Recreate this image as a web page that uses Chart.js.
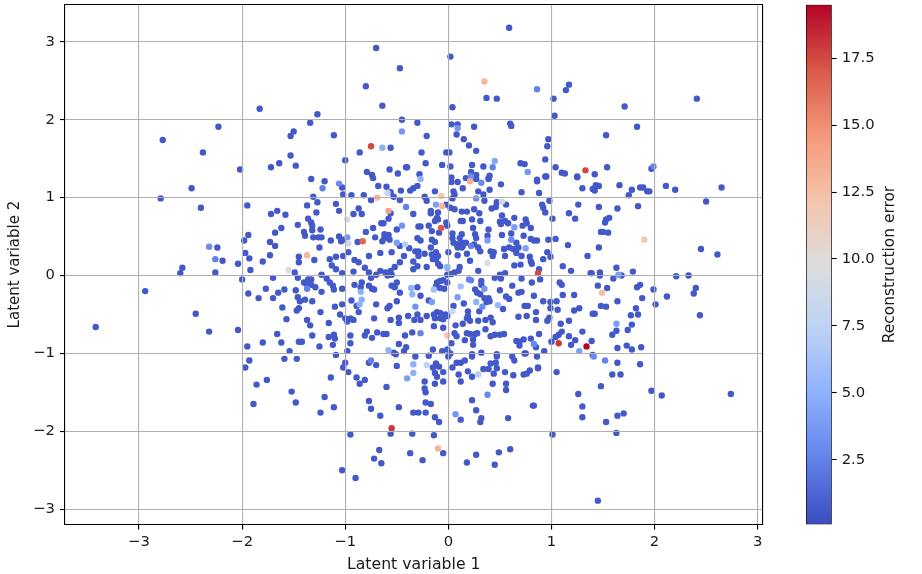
<!DOCTYPE html>
<html>
<head>
<meta charset="utf-8">
<title>Latent space</title>
<script src="https://cdn.jsdelivr.net/npm/chart.js@4"></script>
<style>
  html, body { margin: 0; padding: 0; background: #fff; }
  #plot { position: absolute; left: 0; top: 0; }
  #bar { position: absolute; left: 780px; top: 0; }
</style>
</head>
<body>
<canvas id="plot" width="780" height="574"></canvas>
<canvas id="bar" width="142" height="574"></canvas>
<script>
// values, grouped by area of the plot
const upperX = [-1.83,-2.23,-2.77,-2.38,-2.02,-1.72,-1.64,-1.53,-1.48,-1.50,-1.53,
  0.59,-0.70,0.02,-0.47,-0.80,0.37,0.47,-0.64,0.04,-1.27,-1.34,-0.45,-0.30,0.03,0.09,0.60,0.61,0.25,-1.11,
  0.08,-0.21,0.15,0.20,-0.56,0.27,-0.86,-0.26,-0.02,0.01,-1.00,-0.22,-0.06,0.02,0.23,0.34,0.70,0.74,-0.57,
  -0.49,-0.41,-0.40,-0.79,-0.74,-0.73,-0.28,-1.33,-1.20,0.03,0.22,0.17,0.27,0.40,0.39,0.86,
  2.41,1.17,1.14,1.02,1.71,1.03,1.83,1.53,0.97,0.96,0.94,1.04,1.10,1.13,0.94,1.25,1.42,1.54,1.97];
const upperY = [2.14,1.91,1.74,1.58,1.36,1.39,1.44,1.54,1.41,1.85,1.79,
  3.18,2.92,2.81,2.66,2.43,2.28,2.27,2.18,2.16,2.07,1.96,2.00,1.96,1.94,1.94,1.95,1.92,1.91,1.80,
  1.81,1.79,1.75,1.67,1.64,1.60,1.58,1.58,1.58,1.58,1.48,1.44,1.42,1.40,1.42,1.40,1.44,1.43,1.36,
  1.31,1.39,1.39,1.33,1.29,1.25,1.30,1.24,1.21,1.26,1.33,1.25,1.29,1.28,1.25,1.23,
  2.27,2.45,2.38,2.27,2.17,2.05,1.91,1.80,1.75,1.66,1.49,1.39,1.32,1.31,1.27,1.27,1.30,1.39,1.37];

const leftX = [-2.49,-2.79,-2.40,-1.95,-1.66,-1.72,-1.58,-1.46,-1.62,-1.68,-1.94,-1.98,-1.73,-1.68,-2.24,-1.97,
  -1.93,-1.73,-2.19,-2.04,-1.80,-1.45,-1.45,-2.58,-2.60,-2.26,-1.92,-1.49,-1.70,-2.00,-1.46,-2.94,-1.77,-1.94,
  -1.84,-1.70,-1.65,-1.59,-1.48,-1.46,-1.61,-1.47,-1.45,-2.45,-1.57,-2.04,-2.32,-3.42,-1.66,-1.62,-1.80,-1.45,
  -1.95,-1.54,-1.93,-1.97,-1.59,-1.47,-1.76,-1.86,-1.52,-1.48,-1.89];
const leftY = [1.12,0.99,0.87,0.90,0.83,0.79,0.78,0.65,0.61,0.55,0.52,0.45,0.43,0.38,0.36,0.29,
  0.22,0.26,0.19,0.15,0.18,0.24,0.17,0.10,0.03,0.04,0.07,0.04,-0.03,-0.05,-0.03,-0.20,-0.17,-0.23,
  -0.29,-0.29,-0.22,-0.18,-0.19,-0.28,-0.41,-0.45,-0.42,-0.49,-0.56,-0.70,-0.72,-0.66,-0.75,-0.86,-0.86,-0.85,
  -0.91,-0.97,-1.09,-1.18,-1.07,-1.07,-1.34,-1.40,-1.49,-1.63,-1.65];

const centerUpX = [-1.03,-1.02,-1.31,-0.94,-0.82,-0.68,-0.60,-0.56,-0.46,-0.30,-0.34,-0.37,-0.13,-0.23,-0.21,
  -0.75,-0.53,-0.47,-1.37,-1.27,-1.09,-1.06,-0.87,-0.92,-0.84,-0.56,-0.34,-0.17,-0.10,-0.11,-0.13,-0.10,-0.17,
  -1.28,-1.36,-1.32,-1.33,-1.24,-1.32,-1.40,-1.39,-0.58,-0.65,-0.63,-0.73,-0.80,-0.50,-0.62,-0.58,-0.57,-0.62,
  -0.64,-0.71,-0.29,-0.27,-0.19,-0.16,-0.09,-0.01,-0.30,-0.27,-0.16,-0.13,-1.31,-1.26,-1.23,-1.14,-1.06,-1.02,
  -1.04,-0.88,-0.47,-1.25,-0.38,-0.32,-0.29,-0.29,-0.23,-0.17,-0.55,-0.66,-0.77,-0.97,-1.02,-1.09,-1.15,-1.30,
  -0.16,-0.12,-0.10,-0.15,-0.12,-0.10,-0.08,-0.43,-0.47,-0.34,-0.30,-0.34,-0.21,-0.91,-0.87,-1.13,-1.09,-1.03,
  -0.81,-0.77,-0.92,-0.52,-0.56,-0.61,-0.66,-0.70,-0.59,-0.55,-1.23,-0.01];
const centerUpY = [1.13,1.04,1.01,1.03,1.03,1.15,1.14,1.07,1.09,1.15,1.12,1.09,1.08,1.01,0.96,
  0.97,1.01,0.97,0.90,0.94,0.92,0.83,0.86,0.79,0.79,0.80,0.79,0.83,0.81,0.74,0.70,0.72,0.80,
  0.81,0.73,0.64,0.68,0.59,0.58,0.56,0.51,0.73,0.67,0.67,0.61,0.56,0.59,0.53,0.52,0.46,0.48,
  0.44,0.49,0.63,0.63,0.64,0.57,0.55,0.64,0.48,0.45,0.46,0.43,0.49,0.49,0.49,0.45,0.50,0.46,
  0.44,0.43,0.38,0.36,0.35,0.31,0.31,0.25,0.28,0.36,0.30,0.29,0.25,0.30,0.25,0.24,0.21,0.20,
  0.27,0.30,0.25,0.21,0.21,0.15,0.12,0.25,0.17,0.18,0.12,0.08,0.11,0.20,0.17,0.13,0.08,0.03,
  0.10,0.04,0.05,0.11,0.06,0.04,0.06,0.01,0.00,0.01,0.01,0.01];

const centerLowX = [-0.75,-1.40,-1.36,-1.33,-1.37,-1.33,-1.29,-1.23,-1.18,-1.15,-1.12,-1.11,-1.03,-0.91,-0.84,-0.85,
  -0.77,-0.74,-0.72,-0.55,-0.50,-0.52,-0.47,-0.30,-0.27,-0.08,-0.11,-0.05,-0.12,-0.08,-0.04,-1.39,-1.32,-1.44,
  -0.94,-0.89,-1.03,-1.10,-0.70,-0.59,-0.57,-0.50,-0.19,-1.24,-1.05,-0.87,-1.00,-0.95,-0.98,-0.92,-0.72,-0.56,
  -0.48,-0.48,-0.39,-0.33,-0.30,-0.27,-0.21,-0.14,-0.11,-0.08,-0.03,-0.13,-0.08,-0.05,-0.01,-1.37,-1.34,-1.16,
  -1.32,-1.16,-1.11,-1.10,-1.12,-0.95,-0.95,-0.79,-0.81,-0.74,-0.69,-0.63,-0.60,-0.42,-0.35,-0.14,-0.05,
  -0.48,-0.41,-0.43,-0.51,-0.15,-0.06,-0.01,-1.25,-1.42,-0.98,-0.53];
const centerLowY = [-0.03,-0.09,-0.05,-0.05,-0.12,-0.12,-0.15,-0.21,-0.04,-0.09,-0.13,-0.18,-0.17,-0.12,-0.09,-0.15,
  -0.13,-0.17,-0.18,-0.13,-0.09,-0.15,-0.22,-0.15,-0.26,-0.07,-0.09,-0.06,-0.14,-0.16,-0.17,-0.31,-0.33,-0.33,
  -0.32,-0.39,-0.37,-0.40,-0.37,-0.42,-0.39,-0.33,-0.32,-0.47,-0.50,-0.47,-0.55,-0.55,-0.59,-0.57,-0.55,-0.57,
  -0.54,-0.61,-0.52,-0.57,-0.50,-0.57,-0.52,-0.50,-0.47,-0.48,-0.50,-0.55,-0.55,-0.56,-0.52,-0.57,-0.64,-0.61,
  -0.77,-0.79,-0.76,-0.81,-0.89,-0.77,-0.87,-0.72,-0.77,-0.80,-0.73,-0.75,-0.75,-0.77,-0.73,-0.65,-0.67,
  -0.88,-0.92,-0.97,-1.01,-0.95,-0.97,-0.95,-0.91,-0.85,-0.97,-0.99];

const rightUpX = [0.09,0.03,0.27,0.39,0.51,0.71,0.88,0.86,0.95,1.25,1.30,1.40,0.05,0.06,0.14,0.29,0.34,0.40,0.04,0.35,
  0.47,0.42,0.46,0.56,0.98,0.91,0.92,0.94,1.26,-0.02,0.02,0.06,0.13,0.18,0.25,0.30,0.52,0.64,1.01,1.17,1.23,
  0.12,0.14,0.23,0.31,0.50,0.55,0.58,0.51,0.75,0.76,0.72,0.80,-0.02,0.24,0.39,0.04,0.13,0.11,0.04,0.26,0.27,
  0.38,0.52,0.61,0.73,0.80,0.83,0.86,0.97,1.04,1.16,0.05,0.08,0.10,0.13,0.09,0.13,0.14,0.17,0.25,0.29,0.31,
  0.41,0.44,0.43,0.54,0.59,0.66,0.68,0.63,0.66,0.71,0.00,0.09,0.18,0.21,0.55,0.79,0.80,0.81,0.96,0.99,0.92,
  1.35,0.64,0.70,1.11,0.11,0.10,0.06,0.29,0.50,0.55,0.88,1.19,1.38,0.03];
const rightUpY = [1.20,1.20,1.24,1.24,1.17,1.07,1.06,1.21,1.27,1.26,1.12,1.11,1.08,1.04,1.12,1.08,1.04,1.10,0.99,0.96,
  0.94,0.86,0.88,0.91,0.96,0.91,0.87,0.81,0.91,0.91,0.87,0.85,0.82,0.82,0.85,0.80,0.77,0.74,0.73,0.80,0.73,
  0.70,0.70,0.72,0.70,0.69,0.70,0.67,0.66,0.72,0.67,0.64,0.61,0.68,0.61,0.59,0.54,0.53,0.48,0.48,0.53,0.48,
  0.51,0.52,0.54,0.51,0.47,0.45,0.45,0.46,0.47,0.39,0.42,0.40,0.40,0.42,0.36,0.36,0.38,0.42,0.40,0.36,0.31,
  0.31,0.30,0.25,0.34,0.36,0.42,0.36,0.34,0.29,0.25,0.30,0.26,0.28,0.19,0.25,0.24,0.18,0.15,0.30,0.24,0.21,
  0.25,0.13,0.14,0.12,0.11,0.06,0.04,0.06,0.01,0.03,0.08,0.06,0.03,0.02];

const rightLowX = [0.45,0.51,0.71,0.89,-0.01,1.08,1.10,0.81,0.62,0.32,0.32,0.50,0.26,0.28,0.31,0.35,0.39,0.37,0.40,
  0.68,0.71,0.56,0.59,0.83,1.11,1.22,0.92,0.15,0.05,0.53,0.74,0.77,0.99,1.05,0.99,1.06,1.22,1.27,1.40,0.30,
  0.19,0.19,0.18,0.21,0.85,0.85,0.68,0.76,0.98,0.96,1.17,0.29,0.36,0.41,0.43,0.07,0.14,0.36,1.09,1.10,1.07,
  1.04,1.30,1.17,0.06,0.08,0.18,0.21,0.26,0.28,0.41,0.45,0.50,0.54,0.24,0.24,0.16,0.03,0.88,0.66,0.69,0.73,
  0.69,0.80,1.00,0.85,0.93,1.23,1.19,0.02,0.23,0.47,0.74];
const rightLowY = [-0.03,-0.04,-0.04,-0.05,-0.09,-0.09,-0.12,-0.09,-0.13,-0.07,-0.12,-0.19,-0.18,-0.22,-0.24,-0.29,-0.29,-0.34,-0.33,
  -0.22,-0.21,-0.27,-0.30,-0.26,-0.25,-0.25,-0.33,-0.36,-0.39,-0.43,-0.39,-0.39,-0.34,-0.33,-0.42,-0.44,-0.45,-0.42,-0.49,-0.46,
  -0.46,-0.52,-0.55,-0.58,-0.47,-0.57,-0.53,-0.52,-0.54,-0.58,-0.58,-0.58,-0.57,-0.54,-0.60,-0.64,-0.62,-0.69,-0.62,-0.72,-0.76,
  -0.79,-0.72,-0.78,-0.74,-0.78,-0.74,-0.75,-0.75,-0.74,-0.78,-0.76,-0.76,-0.75,-0.82,-0.89,-0.83,-0.87,-0.75,-0.84,-0.85,-0.82,
  -0.90,-0.81,-0.85,-0.92,-0.97,-0.83,-0.89,-1.00,-1.01,-1.01,-1.00];

const farRightX = [1.66,1.43,1.46,1.42,1.78,1.86,1.89,1.93,1.95,2.11,2.20,2.65,1.75,2.50,1.46,1.64,1.84,1.56,1.53,1.52,
  1.48,1.50,1.55,1.46,2.45,2.61,1.63,1.79,1.39,1.47,1.47,1.68,1.60,2.21,2.33,1.45,1.54,1.86,1.83,1.99,2.40,2.38,
  2.12,1.88,1.64,2.01,1.48,1.53,1.82,1.42,1.77,1.84,2.44,1.78,1.74,1.63,1.59,1.39,1.64,1.73,1.78,1.87];
const farRightY = [1.16,1.16,1.15,1.09,1.10,1.13,1.13,1.08,1.08,1.15,1.10,1.13,1.03,0.95,0.88,0.86,0.89,0.74,0.72,0.68,
  0.56,0.56,0.55,0.36,0.34,0.27,0.10,0.05,0.03,0.04,0.00,0.00,-0.04,-0.01,0.00,-0.13,-0.16,-0.12,-0.15,-0.18,-0.16,-0.23,
  -0.27,-0.29,-0.33,-0.37,-0.39,-0.40,-0.42,-0.49,-0.51,-0.50,-0.51,-0.63,-0.70,-0.71,-0.76,-0.84,-0.93,-0.90,-0.95,-0.92];

const lowerX = [-1.09,-1.00,-1.02,-0.97,-0.77,-0.70,-1.14,-0.89,-0.81,-0.86,-0.50,-0.60,-1.20,-1.11,-1.24,-0.77,-0.75,-0.66,
  -0.48,-0.34,-0.29,-0.22,-0.22,-0.17,-0.13,-0.09,-0.23,-0.22,-0.23,-0.13,-0.05,-0.32,-0.19,-0.15,-0.12,-0.09,-0.13,-0.11,-0.05,
  -0.95,-0.56,-0.35,-0.14,-0.67,-0.72,-0.65,-0.37,-0.25,-0.05,-1.03,-0.90,0.00,0.04,0.08,0.12,0.16,0.10,0.19,0.23,0.12,
  0.34,0.39,0.41,0.46,0.47,0.44,0.55,0.63,0.73,0.76,0.79,0.87,0.62,0.64,0.75,0.86,0.23,0.32,0.47,0.43,0.56,0.56,
  0.23,0.27,0.12,0.32,0.31,0.58,0.83,0.27,0.18,0.49,0.60,0.45,1.40,1.64,1.86,1.59,1.67,0.87,1.05,1.48,1.26,
  1.97,2.07,2.74,0.82,1.30,1.30,1.70,1.64,1.53,1.63,1.01,1.45];
const lowerY = [-1.02,-1.12,-1.18,-1.24,-1.12,-1.15,-1.31,-1.31,-1.34,-1.39,-1.16,-1.43,-1.56,-1.69,-1.76,-1.61,-1.71,-1.80,
  -1.69,-1.76,-1.76,-1.76,-1.63,-1.65,-1.82,-1.88,-1.45,-1.50,-1.36,-1.39,-1.36,-1.04,-1.03,-1.18,-1.13,-1.17,-1.25,-1.30,-1.24,
  -2.04,-2.03,-2.03,-2.05,-2.24,-2.35,-2.41,-2.28,-2.37,-2.28,-2.50,-2.60,-1.04,-1.18,-1.12,-1.12,-1.09,-1.27,-1.23,-1.30,-1.36,
  -1.20,-1.20,-1.13,-1.12,-1.19,-1.26,-1.24,-1.28,-1.27,-1.26,-1.22,-1.19,-1.04,-1.09,-1.00,-1.04,-1.04,-0.99,-1.04,-1.39,-1.39,-1.47,
  -1.60,-1.73,-1.85,-1.83,-1.88,-1.83,-1.67,-2.30,-2.40,-2.27,-2.23,-2.43,-1.02,-1.12,-1.14,-1.27,-1.27,-1.18,-1.24,-1.42,-1.52,
  -1.48,-1.54,-1.52,-1.67,-1.68,-1.82,-1.77,-1.80,-1.88,-2.02,-2.04,-2.89];

// most points sit at the dark end of the colour scale
const typicalError = 0.6;

// points with a visibly different colour
const paleX = [0.35,0.86,0.09,-0.45,-0.75,-0.64,0.45,0.43,0.77,-0.27,0.22,0.21,1.33,1.99,
  -2.32,-2.26,-1.55,-1.06,-1.22,-0.59,-0.69,-0.07,-0.12,-0.06,-0.58,-0.41,-0.98,-0.45,-0.07,-0.98,-0.97,-0.83,-0.50,-0.42,-1.37,-0.01,
  -1.37,-0.85,-0.36,-0.35,-0.14,-0.84,-0.86,-0.32,-0.16,-0.27,-0.01,-0.58,0.27,0.32,0.52,0.64,0.38,0.61,0.22,0.75,0.38,-0.01,0.87,
  0.20,0.22,0.12,0.35,0.09,0.27,0.33,0.48,0.04,1.07,0.83,1.34,1.27,1.90,1.65,1.49,1.63,1.41,
  -0.75,-0.34,-0.34,-0.40,-0.21,-0.55,-0.10,0.29,0.38,0.07,1.52];
const paleY = [2.49,2.39,1.89,1.85,1.66,1.64,1.47,1.39,1.33,1.24,1.27,1.21,1.35,1.40,
  0.37,0.21,0.07,1.18,1.12,1.06,1.00,1.02,0.91,0.89,0.83,0.88,0.72,0.64,0.61,0.49,0.41,0.44,0.42,0.40,0.26,0.10,
  -0.17,-0.21,-0.16,-0.24,-0.18,-0.31,-0.37,-0.40,-0.34,-0.74,-0.77,-0.96,0.99,1.19,0.95,0.62,0.45,0.46,0.38,0.35,0.16,0.11,0.03,
  -0.05,-0.06,-0.14,-0.17,-0.28,-0.34,-0.40,-0.38,-0.46,-0.87,-0.88,-0.91,-0.97,0.46,0.01,-0.22,-0.62,-1.04,
  -1.09,-1.14,-1.25,-1.32,-1.15,-1.96,-2.22,-1.27,-1.53,-1.78,-1.09];
const paleError = [13,2.6,3.6,3.6,17.5,5,4.5,2.5,3.5,5,3,13.5,17.5,2.5,
  3,2.5,10,3,2.5,8,13,12,4,13,14,2.5,9.5,3.5,17,3.5,9,16.5,4,7,13,4,
  2.5,5,5,5,6,5,5,3.5,4,2.5,12,5,3,3,9,4,4,3,2.5,4,9.5,5,17.5,
  2.5,2.5,6,3.5,4,5,3,5.5,8.5,18,3,19.5,4,12,4,12.5,4,3,
  2.5,5,5,4,7.5,18,13,7,2.8,3.5,2.6];

const xTicks = [-3, -2, -1, 0, 1, 2, 3];
const yTicks = [-3, -2, -1, 0, 1, 2, 3];
const errorTicks = [2.5, 5, 7.5, 10, 12.5, 15, 17.5];
const errorMin = 0.08;
const errorMax = 19.5;

// matplotlib coolwarm
const coolwarm = [
  [0, 59, 76, 192], [0.125, 98, 130, 234], [0.25, 141, 176, 254], [0.375, 188, 210, 246], [0.5, 221, 221, 221],
  [0.625, 245, 196, 173], [0.75, 244, 152, 122], [0.875, 217, 88, 71], [1, 180, 4, 38]
];

function errorColor(value) {
  const t = Math.min(1, Math.max(0, (value - errorMin) / (errorMax - errorMin)));
  for (let i = 1; i < coolwarm.length; i++) {
    if (t <= coolwarm[i][0]) {
      const a = coolwarm[i - 1];
      const b = coolwarm[i];
      const f = (t - a[0]) / (b[0] - a[0]);
      const mix = k => Math.round(a[k] + (b[k] - a[k]) * f);
      return "rgb(" + mix(1) + "," + mix(2) + "," + mix(3) + ")";
    }
  }
  return "rgb(180,4,38)";
}

function pointsFrom(xs, ys, errors) {
  return xs.map((x, i) => ({ x: x, y: ys[i], error: errors ? errors[i] : typicalError }));
}

const minusSign = value => String(value).replace("-", "\u2212");
const fontColor = "#1a1a1a";

Chart.defaults.font.family = '"DejaVu Sans"';
Chart.defaults.font.size = 14.8;
Chart.defaults.color = fontColor;
Chart.defaults.animation = false;

const points = [
  ...pointsFrom(upperX, upperY),
  ...pointsFrom(leftX, leftY),
  ...pointsFrom(centerUpX, centerUpY),
  ...pointsFrom(centerLowX, centerLowY),
  ...pointsFrom(rightUpX, rightUpY),
  ...pointsFrom(rightLowX, rightLowY),
  ...pointsFrom(farRightX, farRightY),
  ...pointsFrom(lowerX, lowerY),
  ...pointsFrom(paleX, paleY, paleError)
];

// tick labels should not push the plot area in from the canvas edge
function noLabelPadding(scale) {
  scale.paddingTop = 0;
  scale.paddingBottom = 0;
  scale.paddingLeft = 0;
  scale.paddingRight = 0;
}

const spine = { display: true, color: "#000", width: 1.1, z: 2 };
const hiddenSide = {
  display: true,
  grid: { display: false, drawTicks: false },
  ticks: { display: false },
  border: spine,
  afterFit: scale => {
    noLabelPadding(scale);
    if (scale.isHorizontal()) scale.height = 0; else scale.width = 0;
  }
};

new Chart(document.getElementById("plot"), {
  type: "scatter",
  data: {
    datasets: [{
      data: points,
      pointRadius: 3.2,
      pointHoverRadius: 3.2,
      borderWidth: 0,
      pointBackgroundColor: ctx => errorColor(ctx.raw.error)
    }]
  },
  options: {
    responsive: false,
    layout: { padding: { left: 0, top: 4.7, right: 17.5, bottom: 0 } },
    plugins: { legend: { display: false }, tooltip: { enabled: false } },
    scales: {
      x: {
        type: "linear",
        min: -3.718,
        max: 3.047,
        afterBuildTicks: axis => { axis.ticks = xTicks.map(v => ({ value: v })); },
        afterFit: scale => { noLabelPadding(scale); scale.height = 49.5; },
        grid: { color: "#b0b0b0", lineWidth: 1.1, z: 1, tickColor: "#000", tickLength: 5 },
        border: spine,
        ticks: { padding: 4, maxRotation: 0, callback: minusSign },
        title: { display: true, text: "Latent variable 1", font: { size: 15.7 }, padding: { top: 3, bottom: 0 } }
      },
      y: {
        min: -3.196,
        max: 3.476,
        afterBuildTicks: axis => { axis.ticks = yTicks.map(v => ({ value: v })); },
        afterFit: scale => { noLabelPadding(scale); scale.width = 65; },
        grid: { color: "#b0b0b0", lineWidth: 1.1, z: 1, tickColor: "#000", tickLength: 5 },
        border: spine,
        ticks: { padding: 5, callback: minusSign },
        title: { display: true, text: "Latent variable 2", font: { size: 15 }, padding: { top: 6, bottom: 0 } }
      },
      xTop: { ...hiddenSide, type: "linear", position: "top", min: -3.718, max: 3.047 },
      yRight: { ...hiddenSide, type: "linear", position: "right", min: -3.196, max: 3.476 }
    }
  }
});

// the colour bar is a single floating bar with a gradient fill
function barGradient(ctx) {
  const area = ctx.chart.chartArea;
  if (!area) return "rgb(59,76,192)";
  const g = ctx.chart.ctx.createLinearGradient(0, area.bottom, 0, area.top);
  coolwarm.forEach(s => g.addColorStop(s[0], "rgb(" + s[1] + "," + s[2] + "," + s[3] + ")"));
  return g;
}

// right-hand axis titles read downwards in Chart.js, this one reads upwards
const barLabel = {
  id: "barLabel",
  afterDraw(chart) {
    const c = chart.ctx;
    c.save();
    c.translate(109.5, 264.5);
    c.rotate(-Math.PI / 2);
    c.textAlign = "center";
    c.textBaseline = "middle";
    c.font = '15.4px "DejaVu Sans"';
    c.fillStyle = fontColor;
    c.fillText("Reconstruction error", 0, 0);
    c.restore();
  }
};

new Chart(document.getElementById("bar"), {
  type: "bar",
  data: {
    labels: ["error"],
    datasets: [{
      data: [[errorMin, errorMax]],
      backgroundColor: barGradient,
      borderColor: "#000",
      borderWidth: 1,
      borderSkipped: false,
      barPercentage: 1,
      categoryPercentage: 1
    }]
  },
  options: {
    responsive: false,
    layout: { padding: { left: 26, top: 4.7, right: 0, bottom: 49.5 } },
    plugins: { legend: { display: false }, tooltip: { enabled: false } },
    scales: {
      x: { display: false },
      y: {
        position: "right",
        min: errorMin,
        max: errorMax,
        afterBuildTicks: axis => { axis.ticks = errorTicks.map(v => ({ value: v })); },
        afterFit: scale => { noLabelPadding(scale); scale.width = 90.3; },
        grid: { drawOnChartArea: false, tickColor: "#000", tickWidth: 1.1, tickLength: 5 },
        border: { display: false },
        ticks: { padding: 5, callback: value => value.toFixed(1) }
      }
    }
  },
  plugins: [barLabel]
});
</script>
</body>
</html>
